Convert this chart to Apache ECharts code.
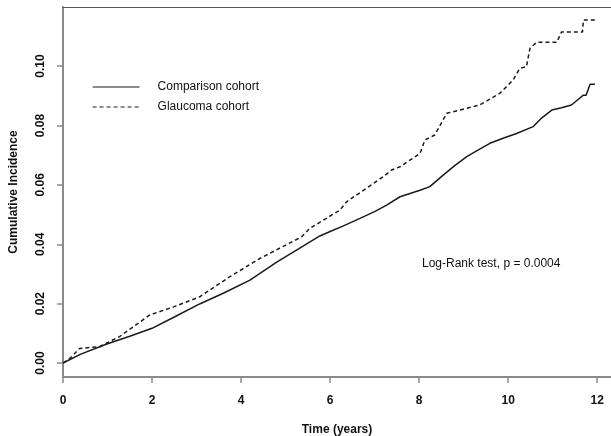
<!DOCTYPE html>
<html>
<head>
<meta charset="utf-8">
<script src="https://cdn.jsdelivr.net/npm/echarts@6/dist/echarts.min.js"></script>
<style>
  html, body { margin: 0; padding: 0; background: #fff; }
  #chart { width: 611px; height: 436px; }
</style>
</head>
<body>
<div id="chart"></div>
<script>
// time (years), cumulative incidence
const comparison = [
    [0, 0], [0.4, 0.003], [1.0, 0.0065], [1.5, 0.009], [2, 0.0117], [2.5, 0.0155],
    [3.07, 0.0199], [3.6, 0.0235], [4.2, 0.0279], [4.8, 0.034], [5.3, 0.0385],
    [5.77, 0.0428], [6, 0.0443], [6.3, 0.0462], [6.67, 0.0487], [7.0, 0.051],
    [7.27, 0.0532], [7.57, 0.056], [8.02, 0.0582], [8.24, 0.0594], [8.54, 0.0633],
    [8.8, 0.0665], [9.07, 0.0695], [9.3, 0.0715], [9.59, 0.074], [9.9, 0.0758],
    [10.19, 0.0773], [10.56, 0.0796], [10.75, 0.0825], [10.98, 0.0852], [11.2, 0.086],
    [11.42, 0.0869], [11.55, 0.0885], [11.69, 0.0902], [11.75, 0.0902], [11.84, 0.0939],
    [11.95, 0.0939]
];
const glaucoma = [
    [0, 0], [0.15, 0.0015], [0.37, 0.0049], [0.82, 0.0055], [1.27, 0.0089],
    [1.95, 0.0162], [2.5, 0.019], [3.07, 0.0223], [3.74, 0.029], [4.42, 0.0352],
    [5.36, 0.0425], [5.54, 0.0453], [6.22, 0.0515], [6.37, 0.0543], [7.19, 0.0627],
    [7.38, 0.065], [7.57, 0.0661], [8.02, 0.0706], [8.13, 0.0751], [8.35, 0.0768],
    [8.62, 0.0841], [9.07, 0.0858], [9.36, 0.0869], [9.81, 0.0908], [10.11, 0.0953],
    [10.26, 0.0992], [10.41, 0.0998], [10.49, 0.106], [10.64, 0.108], [11.09, 0.108],
    [11.2, 0.1115], [11.67, 0.1115], [11.69, 0.1155], [11.99, 0.1155]
];
const yTicks = [0, 0.02, 0.04, 0.06, 0.08, 0.10];
const seriesNames = ['Comparison cohort', 'Glaucoma cohort'];

const font = 'Liberation Sans, Arial, Helvetica, sans-serif';
const axisGray = '#8a8a8a';

const option = {
    animation: false,
    backgroundColor: '#fff',
    textStyle: { fontFamily: font },
    grid: { left: 63, right: 0, top: 7, bottom: 59, containLabel: false, outerBoundsMode: 'none' },
    legend: {
        data: seriesNames,
        orient: 'vertical',
        left: 87,
        top: 76,
        itemWidth: 47,
        itemHeight: 14,
        itemGap: 8,
        itemStyle: { opacity: 0 },
        lineStyle: { width: 1.2 },
        textStyle: { fontSize: 12, color: '#111', fontFamily: font, padding: [0, 0, 0, 13] }
    },
    xAxis: [{
        type: 'value',
        min: 0,
        max: 12.31,
        interval: 2,
        name: 'Time (years)',
        nameLocation: 'middle',
        nameGap: 47,
        nameTextStyle: { fontSize: 12, fontWeight: 'bold', color: '#111', fontFamily: font },
        axisLine: { show: true, onZero: false, lineStyle: { color: axisGray, width: 2 } },
        axisTick: { show: true, length: 6, lineStyle: { color: axisGray, width: 1.5 } },
        axisLabel: {
            margin: 18, fontSize: 12, fontWeight: 'bold', color: '#111', fontFamily: font,
            showMaxLabel: false,
            formatter: v => (v % 2 === 0 ? String(v) : '')
        },
        splitLine: { show: false }
    }, {
        type: 'value',
        position: 'top',
        min: 0,
        max: 12.31,
        axisLine: { show: true, onZero: false, lineStyle: { color: '#555', width: 1 } },
        axisTick: { show: false },
        axisLabel: { show: false },
        splitLine: { show: false }
    }],
    yAxis: {
        type: 'value',
        min: -0.0047,
        max: 0.1199,
        name: 'Cumulative Incidence',
        nameLocation: 'middle',
        nameGap: 43,
        nameTextStyle: { fontSize: 12, fontWeight: 'bold', color: '#111', fontFamily: font },
        axisLine: { show: true, onZero: false, lineStyle: { color: axisGray, width: 2 } },
        axisTick: { show: true, length: 6, customValues: yTicks, lineStyle: { color: axisGray, width: 1.5 } },
        axisLabel: {
            customValues: yTicks,
            rotate: 90,
            margin: 16,
            fontSize: 12, fontWeight: 'bold', color: '#111', fontFamily: font,
            formatter: v => v.toFixed(2)
        },
        splitLine: { show: false }
    },
    graphic: [{
        type: 'text',
        left: 422,
        top: 258,
        style: { text: 'Log-Rank test, p = 0.0004', fontSize: 12, fill: '#111', fontFamily: font }
    }],
    series: [{
        name: seriesNames[0],
        type: 'line',
        data: comparison,
        showSymbol: false,
        symbol: 'none',
        lineStyle: { color: '#1a1a1a', width: 1.5 },
        itemStyle: { color: '#1a1a1a' }
    }, {
        name: seriesNames[1],
        type: 'line',
        data: glaucoma,
        showSymbol: false,
        symbol: 'none',
        lineStyle: { color: '#1a1a1a', width: 1.5, type: [4, 3] },
        itemStyle: { color: '#1a1a1a' }
    }]
};

const chart = echarts.init(document.getElementById('chart'));
chart.setOption(option);
</script>
</body>
</html>
